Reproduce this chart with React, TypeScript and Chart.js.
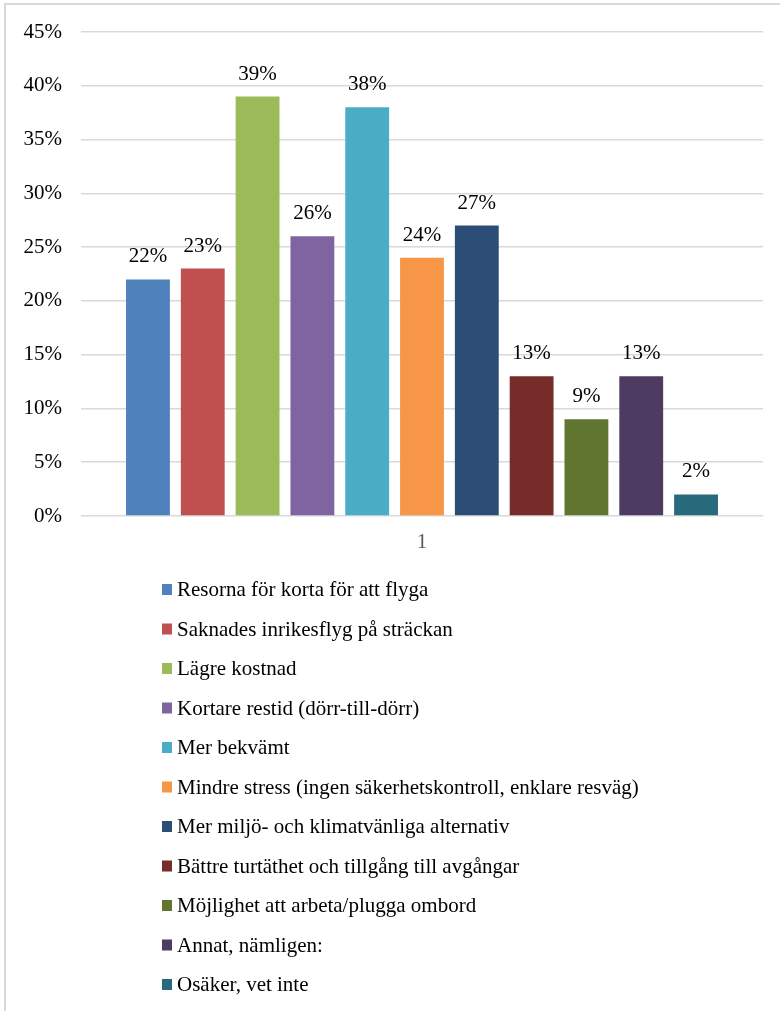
import React, { useEffect, useRef } from "react";
import { Chart, registerables } from "chart.js";

Chart.register(...registerables);

const categories = ["1"];
const seriesNames = [
  "Resorna för korta för att flyga",
  "Saknades inrikesflyg på sträckan",
  "Lägre kostnad",
  "Kortare restid (dörr-till-dörr)",
  "Mer bekvämt",
  "Mindre stress (ingen säkerhetskontroll, enklare resväg)",
  "Mer miljö- och klimatvänliga alternativ",
  "Bättre turtäthet och tillgång till avgångar",
  "Möjlighet att arbeta/plugga ombord",
  "Annat, nämligen:",
  "Osäker, vet inte",
];
const seriesValues = [22, 23, 39, 26, 38, 24, 27, 13, 9, 13, 2];
const seriesColors = [
  "#4F81BD",
  "#C0504D",
  "#9BBB59",
  "#8064A2",
  "#4BACC6",
  "#F79646",
  "#2C4D75",
  "#772C2A",
  "#5F7530",
  "#4D3B62",
  "#276A7C",
];
const yTickLabels = ["0%", "5%", "10%", "15%", "20%", "25%", "30%", "35%", "40%", "45%"];

const FONT = "'Times New Roman', 'Liberation Serif', serif";
const FONT_SIZE = 21;

// value labels above each bar
const barLabelPlugin = {
  id: "barLabels",
  afterDatasetsDraw(chart: Chart) {
    const { ctx } = chart;
    ctx.save();
    ctx.font = `${FONT_SIZE}px ${FONT}`;
    ctx.fillStyle = "#000000";
    ctx.textAlign = "center";
    ctx.textBaseline = "alphabetic";
    chart.data.datasets.forEach((ds, i) => {
      const meta = chart.getDatasetMeta(i);
      meta.data.forEach((bar: any, j: number) => {
        ctx.fillText(`${ds.data[j]}%`, bar.x, bar.y - 17);
      });
    });
    ctx.restore();
  },
};

// one legend entry per line below the plot
const listLegendPlugin = {
  id: "listLegend",
  afterDraw(chart: Chart) {
    const { ctx } = chart;
    ctx.save();
    ctx.font = `${FONT_SIZE}px ${FONT}`;
    ctx.textAlign = "left";
    ctx.textBaseline = "alphabetic";
    chart.data.datasets.forEach((ds, i) => {
      const cy = 589 + i * 39.5;
      ctx.fillStyle = ds.backgroundColor as string;
      ctx.fillRect(162, cy - 5, 10, 11);
      ctx.fillStyle = "#000000";
      ctx.fillText(ds.label as string, 177, cy + 7);
    });
    ctx.restore();
  },
};

const App: React.FC = () => {
  const canvasRef = useRef<HTMLCanvasElement | null>(null);

  useEffect(() => {
    if (!canvasRef.current) return;
    Chart.defaults.font.family = FONT;

    const chart = new Chart(canvasRef.current, {
      type: "bar",
      data: {
        labels: categories,
        datasets: seriesNames.map((name, i) => ({
          label: name,
          data: [seriesValues[i]],
          backgroundColor: seriesColors[i],
          borderWidth: 0,
          categoryPercentage: 0.884,
          barPercentage: 0.8,
        })),
      },
      options: {
        responsive: false,
        animation: false,
        layout: {
          padding: { top: 32, right: 17, bottom: 435, left: 0 },
        },
        plugins: {
          legend: { display: false },
          tooltip: { enabled: false },
        },
        scales: {
          x: {
            grid: { display: false, drawTicks: false },
            border: { display: false },
            ticks: {
              color: "#595959",
              font: { size: FONT_SIZE, family: FONT },
              padding: 14,
            },
            afterFit: (scale: any) => {
              scale.height = 60;
            },
          },
          y: {
            min: 0,
            max: 45,
            grid: { color: "#d9d9d9", lineWidth: 1.5, drawTicks: false },
            border: { display: false },
            ticks: {
              stepSize: 5,
              color: "#000000",
              padding: 19,
              font: { size: FONT_SIZE, family: FONT },
              callback: (_v: any, idx: number) => yTickLabels[idx],
            },
            afterFit: (scale: any) => {
              scale.width = 81;
            },
          },
        },
      },
      plugins: [barLabelPlugin, listLegendPlugin],
    });

    return () => {
      chart.destroy();
    };
  }, []);

  return (
    <div
      style={{
        position: "absolute",
        left: 0,
        top: 0,
        width: 780,
        height: 1011,
        overflow: "hidden",
        background: "#ffffff",
      }}
    >
      <div
        style={{
          position: "absolute",
          left: 4,
          top: 3,
          width: 900,
          height: 1100,
          borderLeft: "2px solid #d9d9d9",
          borderTop: "2px solid #d9d9d9",
        }}
      />
      <canvas
        ref={canvasRef}
        width={780}
        height={1011}
        style={{ position: "absolute", left: 0, top: 0 }}
      />
    </div>
  );
};

export default App;
